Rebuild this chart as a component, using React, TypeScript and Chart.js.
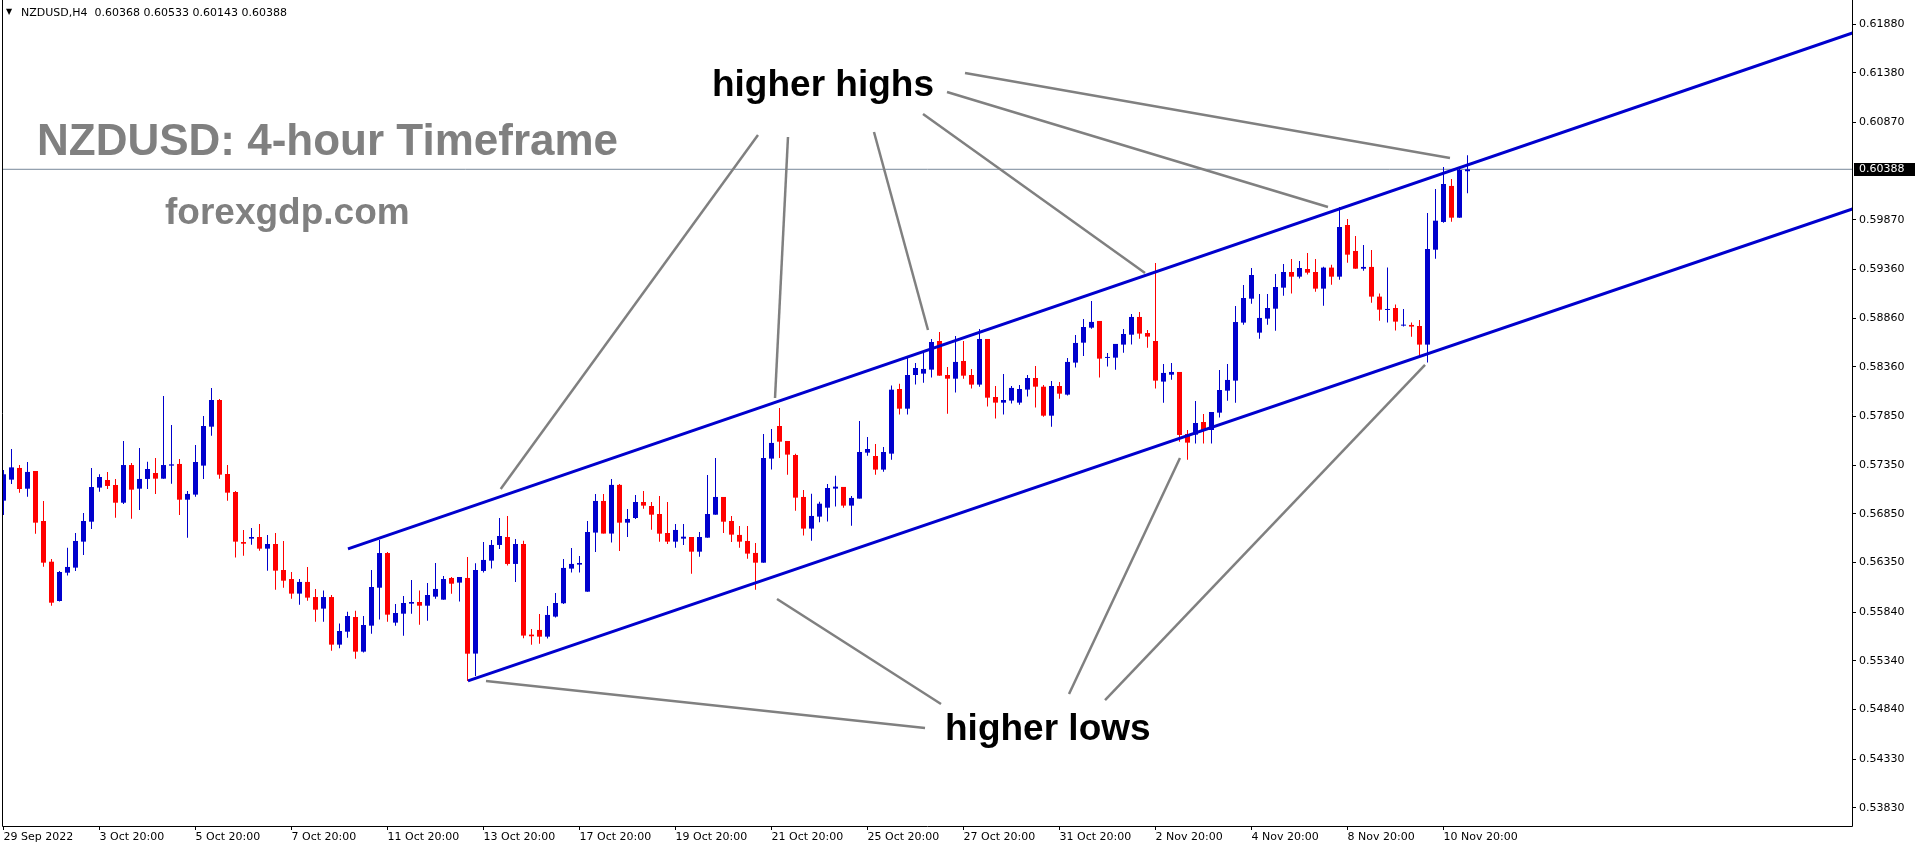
import React, { useEffect, useRef } from "react";
import { Chart, registerables } from "chart.js";

Chart.register(...registerables);

// ---------- DATA ----------
const headerSymbol = "NZDUSD,H4";
const headerOHLC = [0.60368, 0.60533, 0.60143, 0.60388];
const currentPrice = 0.60388;

const opens = [
  0.56984, 0.572, 0.5732, 0.57107, 0.57289, 0.56775, 0.56357, 0.55953, 0.56244, 0.56296,
  0.56563, 0.56768, 0.57118, 0.57196, 0.57145, 0.56963, 0.5735, 0.57107, 0.57207, 0.57268,
  0.5721, 0.57344, 0.57361, 0.56994, 0.57046, 0.57344, 0.57744, 0.58018, 0.57258, 0.57073,
  0.56559, 0.56594, 0.56611, 0.56491, 0.56539, 0.56272, 0.56179, 0.56029, 0.56149, 0.55994,
  0.55875, 0.55994, 0.55505, 0.55638, 0.55789, 0.55433, 0.557, 0.5609, 0.56446, 0.55731,
  0.55823, 0.55926, 0.55943, 0.55905, 0.55998, 0.55967, 0.5619, 0.56142, 0.5619, 0.55413,
  0.56262, 0.56368, 0.56529, 0.56611, 0.56334, 0.56539, 0.55608, 0.55656, 0.55587, 0.55793,
  0.5593, 0.56286, 0.56327, 0.56049, 0.56656, 0.56981, 0.56646, 0.57146, 0.56758, 0.56806,
  0.5697, 0.56929, 0.56847, 0.56652, 0.56563, 0.56594, 0.56611, 0.5646, 0.56604, 0.5684,
  0.57022, 0.56775, 0.56632, 0.5657, 0.56447, 0.56347, 0.57416, 0.57751, 0.57597, 0.57453,
  0.57022, 0.56697, 0.5682, 0.56912, 0.57108, 0.57125, 0.56933, 0.57005, 0.57477, 0.57443,
  0.57303, 0.57467, 0.58131, 0.57929, 0.58275, 0.58289, 0.5833, 0.58624, 0.58275, 0.58237,
  0.58419, 0.58275, 0.58176, 0.58645, 0.58049, 0.57991, 0.58012, 0.57991, 0.58125, 0.58244,
  0.58155, 0.57857, 0.58162, 0.58073, 0.58402, 0.58607, 0.58761, 0.5883, 0.5845, 0.58453,
  0.58587, 0.58689, 0.58871, 0.58706, 0.58624, 0.58207, 0.58278, 0.58306, 0.57669, 0.57662,
  0.57792, 0.5771, 0.57888, 0.58114, 0.58217, 0.58813, 0.59059, 0.5871, 0.58854, 0.58956,
  0.59172, 0.59333, 0.59285, 0.59364, 0.59333, 0.59162, 0.59378, 0.59285, 0.59816, 0.59549,
  0.59367, 0.59385, 0.5908, 0.58943, 0.58963, 0.58782, 0.58789, 0.58778, 0.58587, 0.59562,
  0.59847, 0.60217, 0.59891, 0.60368,
];

const highs = [
  0.57299, 0.57515, 0.5735, 0.57381, 0.57289, 0.56981, 0.56385, 0.56262, 0.56501, 0.56652,
  0.56857, 0.5732, 0.57255, 0.57279, 0.57207, 0.57597, 0.57371, 0.57525, 0.57385, 0.57422,
  0.58059, 0.57761, 0.57412, 0.57083, 0.57556, 0.57854, 0.58141, 0.58028, 0.5735, 0.57083,
  0.56683, 0.56703, 0.56744, 0.56631, 0.56652, 0.5657, 0.56251, 0.56179, 0.56303, 0.56077,
  0.5606, 0.56015, 0.55721, 0.55844, 0.55854, 0.55799, 0.56272, 0.5658, 0.56457, 0.55923,
  0.56005, 0.56169, 0.5606, 0.56138, 0.56344, 0.5621, 0.562, 0.562, 0.56405, 0.56341,
  0.5656, 0.5658, 0.56806, 0.56827, 0.56591, 0.56573, 0.55666, 0.5582, 0.55902, 0.56036,
  0.56385, 0.56498, 0.56416, 0.56775, 0.57053, 0.57053, 0.57207, 0.57156, 0.56899, 0.57042,
  0.57083, 0.5697, 0.57032, 0.5697, 0.56745, 0.56745, 0.56611, 0.56662, 0.57248, 0.57422,
  0.57022, 0.56827, 0.56724, 0.56724, 0.56549, 0.57669, 0.5772, 0.57936, 0.57597, 0.57467,
  0.57094, 0.57056, 0.56974, 0.57155, 0.57241, 0.57125, 0.57032, 0.57803, 0.57638, 0.57566,
  0.57536, 0.58166, 0.58186, 0.5847, 0.58398, 0.58522, 0.58645, 0.58717, 0.58357, 0.58676,
  0.58624, 0.58337, 0.58748, 0.58645, 0.58162, 0.58285, 0.58162, 0.58172, 0.58275, 0.58368,
  0.58172, 0.58214, 0.58203, 0.5845, 0.58686, 0.5885, 0.59035, 0.5883, 0.58501, 0.58594,
  0.58748, 0.58902, 0.58922, 0.58737, 0.59426, 0.58388, 0.58398, 0.58306, 0.5771, 0.58008,
  0.57874, 0.57895, 0.58326, 0.58388, 0.58984, 0.592, 0.59374, 0.59107, 0.59107, 0.59313,
  0.59415, 0.59467, 0.59446, 0.59528, 0.59467, 0.59388, 0.59408, 0.60001, 0.59878, 0.59703,
  0.5961, 0.59559, 0.59111, 0.59378, 0.58998, 0.58953, 0.58813, 0.5884, 0.59939, 0.60186,
  0.60412, 0.60288, 0.60401, 0.60533,
];

const lows = [
  0.56837, 0.57155, 0.57066, 0.57025, 0.56645, 0.56306, 0.55905, 0.55947, 0.56214, 0.56262,
  0.56426, 0.56693, 0.57076, 0.57104, 0.56809, 0.5695, 0.56799, 0.56888, 0.57104, 0.57053,
  0.5721, 0.57159, 0.56837, 0.56604, 0.57025, 0.57207, 0.57652, 0.5721, 0.56984, 0.56399,
  0.56419, 0.56532, 0.5647, 0.56265, 0.5607, 0.5609, 0.55977, 0.55916, 0.55957, 0.55741,
  0.55741, 0.55443, 0.55467, 0.55577, 0.55361, 0.55423, 0.55618, 0.55762, 0.55741, 0.557,
  0.55597, 0.55823, 0.5571, 0.55751, 0.55977, 0.55967, 0.56029, 0.55947, 0.55132, 0.55183,
  0.56245, 0.56286, 0.56488, 0.56317, 0.56149, 0.5557, 0.55505, 0.55515, 0.55567, 0.55783,
  0.55923, 0.56245, 0.56245, 0.56049, 0.56457, 0.56646, 0.56553, 0.56467, 0.56611, 0.56796,
  0.56902, 0.56686, 0.56563, 0.56539, 0.56501, 0.56529, 0.56234, 0.56409, 0.56604, 0.5684,
  0.56652, 0.5656, 0.56501, 0.56388, 0.5607, 0.56347, 0.57303, 0.57422, 0.57251, 0.56881,
  0.56625, 0.56573, 0.56762, 0.56769, 0.56923, 0.56912, 0.56727, 0.57005, 0.57446, 0.57251,
  0.57282, 0.57405, 0.57868, 0.57868, 0.58176, 0.58196, 0.58248, 0.58268, 0.57878, 0.58094,
  0.58237, 0.58135, 0.58155, 0.5795, 0.57827, 0.57868, 0.57981, 0.5797, 0.58053, 0.5794,
  0.57847, 0.57744, 0.58032, 0.58063, 0.58351, 0.5847, 0.58751, 0.58248, 0.58361, 0.5833,
  0.58504, 0.58587, 0.58648, 0.58556, 0.58135, 0.57991, 0.58227, 0.5759, 0.57405, 0.5757,
  0.5757, 0.5757, 0.57837, 0.58011, 0.57991, 0.58792, 0.59008, 0.58648, 0.58792, 0.5873,
  0.5909, 0.59111, 0.59265, 0.59306, 0.59131, 0.58987, 0.59203, 0.59254, 0.59429, 0.59367,
  0.59347, 0.59018, 0.58833, 0.58813, 0.58731, 0.58772, 0.58669, 0.58474, 0.58402, 0.5947,
  0.5984, 0.5985, 0.59891, 0.60143,
];

const closes = [
  0.57255, 0.57326, 0.57104, 0.57279, 0.56758, 0.56347, 0.55936, 0.56251, 0.56303, 0.5657,
  0.56775, 0.57124, 0.57227, 0.57135, 0.56963, 0.5735, 0.57097, 0.57207, 0.57309, 0.5721,
  0.5735, 0.57357, 0.56994, 0.57053, 0.57381, 0.57751, 0.58018, 0.57251, 0.57066, 0.56563,
  0.56542, 0.56611, 0.56491, 0.56539, 0.56265, 0.56162, 0.56029, 0.56149, 0.55988, 0.55864,
  0.55994, 0.55505, 0.55645, 0.55799, 0.55433, 0.55707, 0.56097, 0.56446, 0.55813, 0.5583,
  0.55933, 0.55943, 0.55905, 0.56015, 0.56077, 0.56179, 0.56131, 0.562, 0.55412, 0.56272,
  0.56375, 0.56529, 0.56621, 0.56334, 0.56539, 0.55598, 0.55591, 0.55587, 0.5581, 0.55933,
  0.56293, 0.56334, 0.56344, 0.56662, 0.56981, 0.56646, 0.57146, 0.56758, 0.56796, 0.5697,
  0.56933, 0.5684, 0.56645, 0.56563, 0.56683, 0.56614, 0.5646, 0.56611, 0.56847, 0.57022,
  0.56768, 0.56635, 0.56563, 0.5644, 0.56347, 0.57422, 0.57577, 0.5759, 0.57457, 0.57015,
  0.56697, 0.56827, 0.56953, 0.57114, 0.57128, 0.56933, 0.57012, 0.57484, 0.57515, 0.57303,
  0.57484, 0.58124, 0.57929, 0.58275, 0.58347, 0.58337, 0.58614, 0.58268, 0.58237, 0.58409,
  0.58268, 0.58176, 0.58645, 0.58042, 0.57991, 0.58018, 0.58142, 0.58131, 0.58244, 0.58155,
  0.57857, 0.58162, 0.58083, 0.58409, 0.58604, 0.58768, 0.5882, 0.58443, 0.5846, 0.58594,
  0.58696, 0.58871, 0.587, 0.58669, 0.58217, 0.58296, 0.58306, 0.57659, 0.5758, 0.57782,
  0.57703, 0.57895, 0.58121, 0.58224, 0.58819, 0.59066, 0.59302, 0.58861, 0.58963, 0.59179,
  0.59333, 0.59285, 0.59374, 0.59326, 0.59162, 0.59378, 0.59285, 0.59795, 0.59511, 0.59367,
  0.59385, 0.5908, 0.58946, 0.58953, 0.58823, 0.58792, 0.58772, 0.58587, 0.59569, 0.5986,
  0.60237, 0.59891, 0.60381, 0.60388,
];

const xTickIndices = [0, 12, 24, 36, 48, 60, 72, 84, 96, 108, 120, 132, 144, 156, 168, 180];
const xTickLabels = [
  "29 Sep 2022", "3 Oct 20:00", "5 Oct 20:00", "7 Oct 20:00", "11 Oct 20:00", "13 Oct 20:00",
  "17 Oct 20:00", "19 Oct 20:00", "21 Oct 20:00", "25 Oct 20:00", "27 Oct 20:00", "31 Oct 20:00",
  "2 Nov 20:00", "4 Nov 20:00", "8 Nov 20:00", "10 Nov 20:00",
];
const yTickValues = [
  0.6188, 0.6138, 0.6087, 0.5987, 0.5936, 0.5886, 0.5836, 0.5785, 0.5735, 0.5685,
  0.5635, 0.5584, 0.5534, 0.5484, 0.5433, 0.5383,
];

// channel trend lines: [index, price]
const upperChannel = [[43.06, 0.56488], [240, 0.62039]];
const lowerChannel = [[58.06, 0.55132], [240, 0.6023]];

// pointer lines from labels: [[index, price], [index, price]]
const higherHighPointers = [
  [[94.31, 0.6074], [62.15, 0.57104]],
  [[98.06, 0.6072], [96.44, 0.58039]],
  [[108.81, 0.60771], [115.56, 0.58737]],
  [[114.94, 0.60956], [142.69, 0.59323]],
  [[117.94, 0.61182], [165.56, 0.60001]],
  [[120.19, 0.61377], [180.81, 0.60504]],
];
const higherLowPointers = [
  [[60.31, 0.55132], [115.19, 0.54649]],
  [[96.69, 0.55974], [117.19, 0.54895]],
  [[133.19, 0.54998], [147.06, 0.57422]],
  [[137.69, 0.54936], [177.69, 0.58378]],
];

// text notes: text, anchor index, anchor price
const noteTexts = ["NZDUSD: 4-hour Timeframe", "forexgdp.com", "higher highs", "higher lows"];
const noteIndex = [4.19, 20.19, 88.56, 117.69];
const notePrice = [0.60658, 0.59929, 0.61244, 0.54628];

// ---------- STYLE ----------
const BULL = "#0000CD";
const BEAR = "#FF0000";
const CHANNEL = "#0000CD";
const POINTER = "#808080";
const BIDLINE = "#778899";
const noteFonts = [
  'bold 44px "Liberation Sans"',
  'bold 37px "Liberation Sans"',
  'bold 37px "Liberation Sans"',
  'bold 37px "Liberation Sans"',
];
const noteColors = ["#808080", "#808080", "#000000", "#000000"];
const AXIS_FONT = "DejaVu Sans";

const X_MIN = -0.0625;
const X_MAX = X_MIN + 1849 / 8;
const Y_MIN = 0.53642;
const Y_MAX = 0.62127;

export default function App() {
  const ref = useRef<HTMLCanvasElement>(null);

  useEffect(() => {
    const canvas = ref.current;
    if (!canvas) return;
    const idx = opens.map((_, i) => i);
    const colors = idx.map((i) => (closes[i] >= opens[i] ? BULL : BEAR));

    const lineDs = (pts: number[][], color: string, width: number, order: number) => ({
      type: "line" as const,
      data: pts.map((p) => ({ x: p[0], y: p[1] })),
      borderColor: color,
      borderWidth: width,
      pointRadius: 0,
      tension: 0,
      fill: false,
      order,
    });

    const datasets: any[] = [
      {
        type: "bar",
        data: idx.map((i) => ({ x: i, y: [opens[i], closes[i]] })),
        backgroundColor: colors,
        barThickness: 5,
        minBarLength: 1,
        grouped: false,
        inflateAmount: 0,
        borderWidth: 0,
        order: 10,
      },
      {
        type: "bar",
        data: idx.map((i) => ({ x: i, y: [lows[i], highs[i]] })),
        backgroundColor: colors,
        barThickness: 1,
        grouped: false,
        inflateAmount: 0,
        borderWidth: 0,
        order: 11,
      },
      lineDs([[X_MIN, currentPrice], [X_MAX, currentPrice]], BIDLINE, 1, 12),
      lineDs(upperChannel, CHANNEL, 3, 2),
      lineDs(lowerChannel, CHANNEL, 3, 2),
      ...higherHighPointers.map((p) => lineDs(p, POINTER, 2.5, 3)),
      ...higherLowPointers.map((p) => lineDs(p, POINTER, 2.5, 3)),
    ];

    const overlay = {
      id: "overlay",
      afterDraw(chart: any) {
        const { ctx, chartArea, scales } = chart;
        const xs = scales.x;
        const ys = scales.y;
        ctx.save();
        // frame
        ctx.strokeStyle = "#000";
        ctx.lineWidth = 1;
        ctx.beginPath();
        ctx.moveTo(2.5, 0);
        ctx.lineTo(2.5, chartArea.bottom + 0.5);
        ctx.lineTo(chartArea.right + 0.5, chartArea.bottom + 0.5);
        ctx.lineTo(chartArea.right + 0.5, 0);
        ctx.stroke();

        // notes
        ctx.textAlign = "left";
        ctx.textBaseline = "middle";
        noteTexts.forEach((t, k) => {
          ctx.font = noteFonts[k];
          ctx.fillStyle = noteColors[k];
          ctx.fillText(t, xs.getPixelForValue(noteIndex[k]), ys.getPixelForValue(notePrice[k]));
        });

        // current price box
        const py = Math.round(ys.getPixelForValue(currentPrice));
        ctx.fillStyle = "#000";
        ctx.fillRect(chartArea.right + 2, py - 6, 61, 13);
        ctx.fillStyle = "#fff";
        ctx.font = `11px "${AXIS_FONT}"`;
        ctx.fillText(currentPrice.toFixed(5), chartArea.right + 7, py + 0.5);

        // header
        ctx.fillStyle = "#000";
        ctx.font = `8px "${AXIS_FONT}"`;
        ctx.fillText("▼", 6, 12);
        ctx.font = `11px "${AXIS_FONT}"`;
        ctx.fillText(
          headerSymbol + "  " + headerOHLC.map((v) => v.toFixed(5)).join(" "),
          21,
          13
        );
        ctx.restore();
      },
    };

    const chart = new Chart(canvas, {
      type: "bar",
      data: { datasets },
      options: {
        responsive: false,
        animation: false,
        events: [],
        layout: { padding: { left: 3, top: 0, right: 0, bottom: 0 } },
        plugins: {
          legend: { display: false },
          tooltip: { enabled: false },
          title: { display: false },
        },
        scales: {
          x: {
            type: "linear",
            position: "bottom",
            min: X_MIN,
            max: X_MAX,
            offset: false,
            grid: {
              offset: false,
              drawOnChartArea: false,
              drawTicks: true,
              tickLength: 4,
              color: "#000",
              lineWidth: 1,
            },
            border: { display: false },
            ticks: {
              autoSkip: false,
              maxRotation: 0,
              minRotation: 0,
              align: "start",
              padding: 1,
              color: "#000",
              font: { family: AXIS_FONT, size: 11 },
              callback: (v: any) => {
                const k = xTickIndices.indexOf(Number(v));
                return k >= 0 ? xTickLabels[k] : "";
              },
            },
            afterBuildTicks: (s: any) => {
              s.ticks = xTickIndices.map((v) => ({ value: v }));
            },
            afterFit: (s: any) => {
              s.height = 24;
              s.paddingLeft = 0;
              s.paddingRight = 0;
              s.paddingTop = 0;
              s.paddingBottom = 0;
            },
          },
          y: {
            type: "linear",
            position: "right",
            min: Y_MIN,
            max: Y_MAX,
            grid: {
              drawOnChartArea: false,
              drawTicks: true,
              tickLength: 4,
              color: "#000",
              lineWidth: 1,
            },
            border: { display: false },
            ticks: {
              autoSkip: false,
              padding: 3,
              color: "#000",
              font: { family: AXIS_FONT, size: 11 },
              callback: (v: any) => Number(v).toFixed(5),
            },
            afterBuildTicks: (s: any) => {
              s.ticks = yTickValues.map((v) => ({ value: v }));
            },
            afterFit: (s: any) => {
              s.width = 64;
              s.paddingLeft = 0;
              s.paddingRight = 0;
              s.paddingTop = 0;
              s.paddingBottom = 0;
            },
          },
        },
      } as any,
      plugins: [overlay],
    });

    return () => chart.destroy();
  }, []);

  return (
    <div style={{ position: "fixed", left: 0, top: 0, width: 1916, height: 850, background: "#fff" }}>
      <canvas ref={ref} width={1916} height={850} style={{ width: 1916, height: 850, display: "block" }} />
    </div>
  );
}
